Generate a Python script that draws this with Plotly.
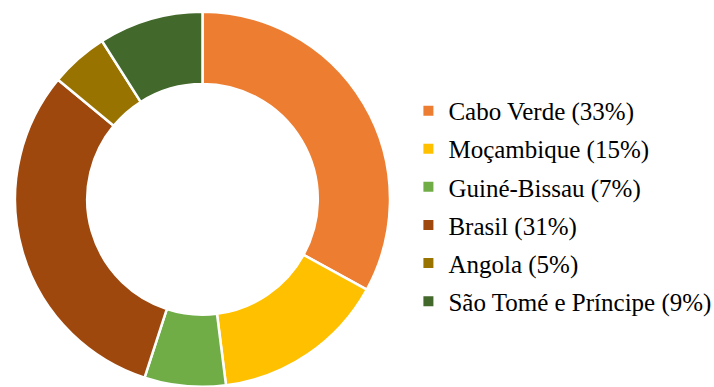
import plotly.graph_objects as go

countries = ["Cabo Verde", "Moçambique", "Guiné-Bissau", "Brasil", "Angola", "São Tomé e Príncipe"]
percent = [33, 15, 7, 31, 5, 9]
colors = ["#ED7D31", "#FFC000", "#70AD47", "#9E480E", "#997300", "#43682B"]

labels = [f"{c} ({p}%)" for c, p in zip(countries, percent)]
serif = "Times New Roman"

fig = go.Figure()
fig.add_trace(go.Pie(
    labels=labels,
    values=percent,
    hole=0.615,
    sort=False,
    direction="clockwise",
    rotation=0,
    marker=dict(colors=colors, line=dict(color="white", width=2.5)),
    textinfo="none",
    hoverinfo="label",
    showlegend=False,
    domain=dict(x=[15/714, 390/714], y=[0, 0.97]),
))

# legend entries (one per slice) so that spacing can be controlled
for lab, col in zip(labels, colors):
    fig.add_trace(go.Scatter(
        x=[None], y=[None], mode="markers", name=lab, legendgroup=lab,
        marker=dict(symbol="square", size=10, color=col),
        showlegend=True, hoverinfo="skip",
    ))

fig.update_layout(
    width=714, height=387,
    margin=dict(l=0, r=0, t=0, b=0, autoexpand=False),
    paper_bgcolor="white", plot_bgcolor="white",
    font=dict(family=serif, size=25, color="#000000"),
    xaxis=dict(visible=False), yaxis=dict(visible=False),
    showlegend=True,
    legend=dict(
        x=0.572, xanchor="left", y=0.468, yanchor="middle",
        font=dict(family=serif, size=25, color="#000000"),
        bgcolor="rgba(0,0,0,0)",
        tracegroupgap=2.6,
        itemwidth=30,
    ),
)

fig.write_html("out.html")
